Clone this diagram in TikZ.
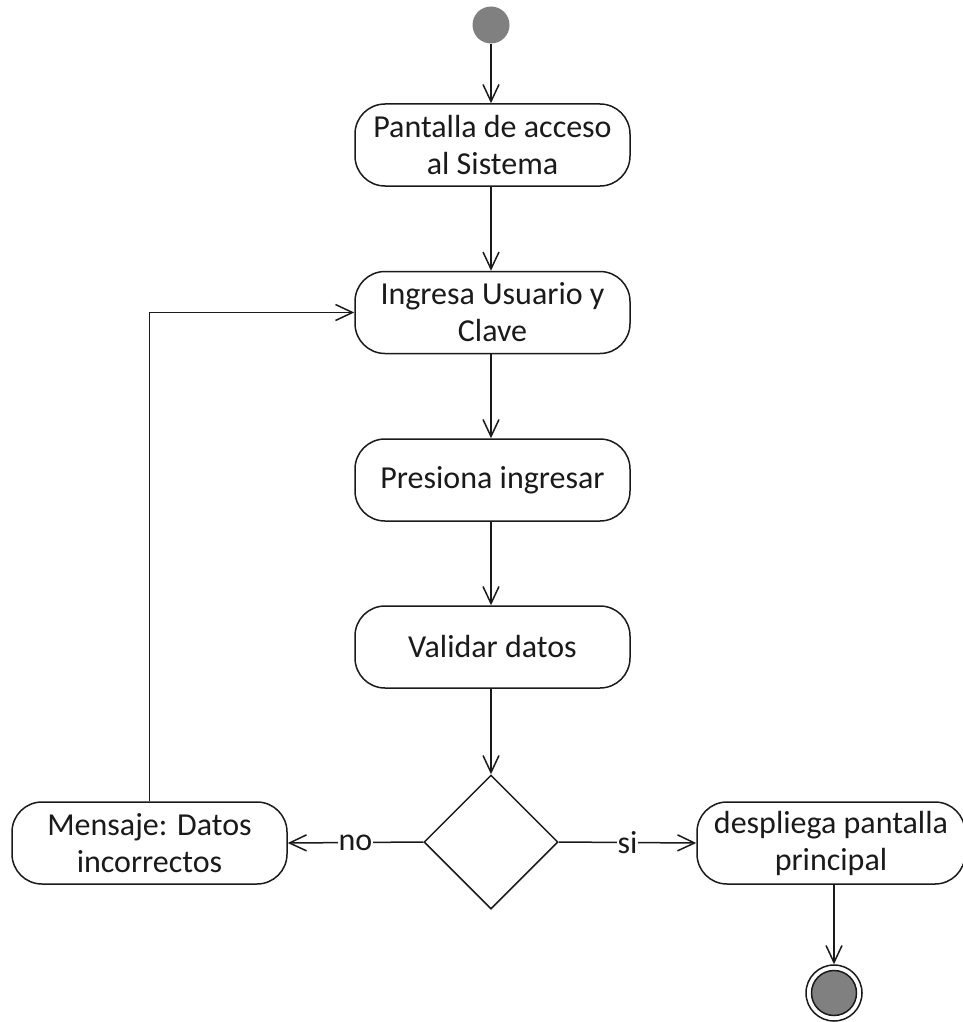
\documentclass[tikz,border=0pt]{standalone}
\usepackage{fontspec}
\setmainfont{Carlito}
\usetikzlibrary{arrows.meta,shapes.geometric}
\definecolor{nodegray}{HTML}{808080}
\definecolor{inkc}{HTML}{1A1A1A}
\begin{document}
\begin{tikzpicture}[x=1pt,y=-1pt,
  act/.style={draw=inkc, line width=1.5pt, rounded corners=30pt,
    minimum width=275pt, minimum height=82pt, align=center, inner sep=0pt,
    text=inkc, font=\fontsize{32}{37}\selectfont},
  flow/.style={draw=inkc, line width=1.5pt,
    -{Straight Barb[length=17pt,width=16pt,line width=1.5pt]}},
  guard/.style={fill=white, inner sep=1pt, text=inkc,
    font=\fontsize{32}{37}\selectfont}]
\useasboundingbox (0,0) rectangle (963,1022);

% initial and final states
\node[circle, fill=nodegray, minimum size=37pt, inner sep=0pt] (start) at (491,25) {};
\node[circle, draw=inkc, line width=1.5pt, minimum size=56pt, inner sep=0pt] (end) at (834,993) {};
\node[circle, draw=inkc, line width=1.5pt, fill=nodegray, minimum size=45pt, inner sep=0pt] (endin) at (834,993) {};

% activities
\node[act] (acceso) at (492.5,145) {Pantalla de acceso\\al Sistema};
\node[act] (ingresa) at (492.5,312.5) {Ingresa Usuario y\\Clave};
\node[act] (presiona) at (492.5,480) {Presiona ingresar};
\node[act] (validar) at (492.5,647) {Validar datos};
\node[draw=inkc, line width=1.5pt, diamond, minimum width=134pt, minimum height=134pt, inner sep=0pt] (dec) at (491,842) {};
\node[act] (mensaje) at (149.5,843) {Mensaje: Datos\\incorrectos};
\node[act, minimum width=268pt] (despliega) at (831,843) {despliega pantalla\\principal};

% control flows
\draw[flow] (start) -- (start |- acceso.north);
\draw[flow] (start |- acceso.south) -- (start |- ingresa.north);
\draw[flow] (start |- ingresa.south) -- (start |- presiona.north);
\draw[flow] (start |- presiona.south) -- (start |- validar.north);
\draw[flow] (start |- validar.south) -- (dec.north);
\draw[flow] (dec.west) -- node[guard] {no} (mensaje.east);
\draw[flow] (dec.east) -- node[guard] {si} (despliega.west);
\draw[flow] (mensaje.north) |- (ingresa.west);
\draw[flow] (end |- despliega.south) -- (end.north);
\end{tikzpicture}
\end{document}
